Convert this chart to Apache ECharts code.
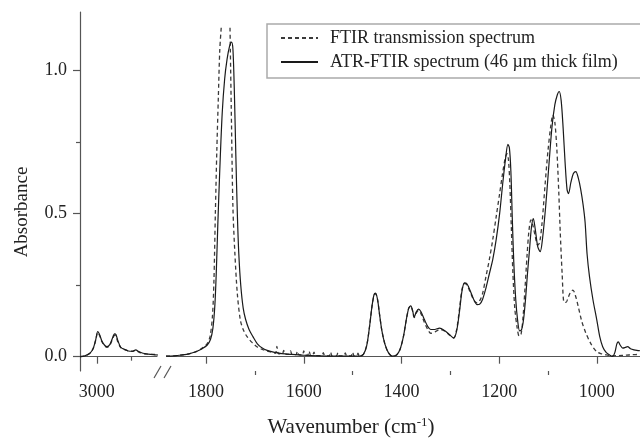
<!DOCTYPE html>
<html>
<head>
<meta charset="utf-8">
<script src="https://cdn.jsdelivr.net/npm/echarts@6/dist/echarts.min.js"></script>
<style>
html, body { margin: 0; padding: 0; background: #fff; }
#main { width: 640px; height: 441px; }
</style>
</head>
<body>
<div id="main"></div>
<script>
// wavenumbers (cm-1) and absorbance
var atrWave = [3049, 3035, 3020, 3010, 3003, 2997, 2992, 2985, 2977, 2970, 2962, 2955, 2948, 2944, 2938, 2930, 2920, 2908, 2895, 2886, 2878, 2865, 2850, 2835, 2821,
  1882, 1865, 1850, 1835, 1820, 1808, 1798, 1791, 1786, 1782, 1779, 1776, 1772, 1767, 1762, 1757, 1752, 1748, 1745, 1742, 1739, 1736, 1733, 1729, 1724, 1719, 1712, 1704, 1695, 1685, 1675, 1660, 1645, 1625, 1600, 1570, 1540, 1510,
  1486, 1478, 1471, 1465, 1460, 1456, 1453, 1449, 1445, 1440, 1434, 1427, 1419, 1410, 1403, 1396, 1390, 1385, 1381, 1377, 1374, 1370, 1365, 1360, 1353, 1346, 1340, 1332, 1322, 1312, 1302, 1293, 1287, 1281, 1276, 1271, 1266, 1259, 1252, 1245, 1240, 1234, 1227, 1220, 1213, 1206, 1199, 1193, 1187, 1182, 1179, 1176, 1173, 1170, 1166, 1162, 1158, 1154, 1150, 1146, 1142, 1138, 1134, 1130, 1126, 1121, 1116, 1111, 1105, 1099, 1092, 1086, 1081, 1077, 1073, 1069, 1065, 1061, 1058, 1053, 1048, 1043, 1038, 1033, 1028, 1024, 1020, 1015, 1008, 1000, 994, 988, 981, 974, 968, 963, 959, 956, 952, 947, 942, 937, 931, 924, 918, 912];
var atrAbs = [0.0, 0.003, 0.012, 0.03, 0.06, 0.088, 0.078, 0.055, 0.04, 0.035, 0.042, 0.062, 0.08, 0.078, 0.055, 0.033, 0.026, 0.02, 0.019, 0.024, 0.018, 0.012, 0.009, 0.007, 0.006,
  0.002, 0.003, 0.006, 0.01, 0.018, 0.028, 0.04, 0.06, 0.1, 0.18, 0.3, 0.46, 0.65, 0.85, 0.97, 1.04, 1.085, 1.1, 1.075, 0.92, 0.7, 0.5, 0.36, 0.25, 0.17, 0.13, 0.095, 0.07, 0.045, 0.03, 0.022, 0.015, 0.011, 0.008, 0.005, 0.003, 0.002, 0.002,
  0.002, 0.008, 0.04, 0.11, 0.18, 0.218, 0.222, 0.2, 0.15, 0.09, 0.045, 0.015, 0.002, 0.006, 0.025, 0.07, 0.13, 0.17, 0.178, 0.16, 0.138, 0.155, 0.166, 0.157, 0.13, 0.105, 0.095, 0.095, 0.1, 0.092, 0.078, 0.065, 0.09, 0.16, 0.23, 0.258, 0.255, 0.23, 0.2, 0.182, 0.183, 0.2, 0.24, 0.29, 0.34, 0.41, 0.5, 0.6, 0.69, 0.742, 0.73, 0.65, 0.48, 0.33, 0.2, 0.125, 0.09, 0.095, 0.13, 0.2, 0.29, 0.37, 0.45, 0.483, 0.445, 0.385, 0.367, 0.415, 0.52, 0.65, 0.8, 0.88, 0.915, 0.927, 0.895, 0.8, 0.68, 0.585, 0.57, 0.61, 0.64, 0.647, 0.625, 0.585, 0.53, 0.47, 0.36, 0.28, 0.2, 0.128, 0.07, 0.035, 0.015, 0.006, 0.001, 0.015, 0.045, 0.052, 0.04, 0.03, 0.032, 0.035, 0.028, 0.024, 0.022, 0.021];

var ftirWave = [3049, 3035, 3020, 3010, 3003, 2997, 2992, 2985, 2977, 2970, 2962, 2955, 2948, 2944, 2938, 2930, 2920, 2908, 2895, 2886, 2878, 2865, 2850, 2835, 2821,
  1882, 1865, 1850, 1835, 1820, 1808, 1798, 1792, 1787, 1784, 1781, 1778, 1775, 1772, 1769, 1765, 1751, 1748, 1745, 1741, 1736, 1730, 1724, 1716, 1706, 1696, 1686, 1676, 1666,
  1658, 1655, 1652, 1644, 1641, 1638, 1630, 1627, 1624, 1616, 1613, 1610, 1603, 1600, 1597, 1592, 1589, 1586, 1582, 1579, 1576, 1563, 1560, 1557, 1548, 1545, 1542, 1533, 1530, 1527, 1518, 1515, 1512, 1503, 1500, 1497, 1492, 1489, 1486,
  1478, 1471, 1465, 1460, 1456, 1453, 1449, 1445, 1440, 1434, 1427, 1419, 1410, 1403, 1396, 1390, 1385, 1381, 1377, 1374, 1370, 1365, 1360, 1353, 1346, 1340, 1332, 1322, 1312, 1302, 1293, 1287, 1281, 1276, 1271, 1266, 1259, 1252, 1245, 1240, 1234, 1227, 1220, 1213, 1206, 1199, 1193, 1188, 1184, 1181, 1178, 1175, 1172, 1168, 1163, 1159, 1155, 1151, 1147, 1143, 1139, 1135, 1131, 1126, 1121, 1117, 1112, 1106, 1100, 1094, 1090, 1086, 1082, 1078, 1075, 1071, 1067, 1063, 1059, 1054, 1049, 1044, 1038, 1031, 1023, 1012, 1000, 990, 980, 968, 955, 942, 928, 912];
var ftirAbs = [0.0, 0.003, 0.012, 0.03, 0.058, 0.085, 0.075, 0.052, 0.038, 0.033, 0.04, 0.058, 0.075, 0.072, 0.05, 0.032, 0.026, 0.02, 0.019, 0.023, 0.017, 0.011, 0.009, 0.008, 0.007,
  0.002, 0.003, 0.006, 0.01, 0.018, 0.03, 0.045, 0.07, 0.14, 0.26, 0.5, 0.72, 0.9, 1.07, 1.15, null, 1.15, 0.82, 0.52, 0.36, 0.22, 0.13, 0.095, 0.07, 0.05, 0.035, 0.026, 0.02, 0.016,
  0.012, 0.036, 0.011, 0.01, 0.022, 0.009, 0.008, 0.02, 0.008, 0.007, 0.019, 0.007, 0.006, 0.02, 0.006, 0.005, 0.019, 0.005, 0.005, 0.016, 0.004, 0.004, 0.014, 0.004, 0.003, 0.016, 0.003, 0.003, 0.014, 0.003, 0.003, 0.013, 0.003, 0.003, 0.016, 0.003, 0.003, 0.012, 0.002,
  0.008, 0.04, 0.11, 0.18, 0.215, 0.22, 0.2, 0.15, 0.09, 0.045, 0.015, 0.002, 0.006, 0.025, 0.07, 0.13, 0.17, 0.177, 0.158, 0.137, 0.152, 0.162, 0.15, 0.12, 0.095, 0.082, 0.086, 0.095, 0.09, 0.076, 0.066, 0.095, 0.17, 0.235, 0.256, 0.25, 0.225, 0.198, 0.188, 0.195, 0.22, 0.28, 0.34, 0.41, 0.49, 0.57, 0.64, 0.69, 0.71, 0.69, 0.6, 0.45, 0.3, 0.17, 0.1, 0.072, 0.08, 0.14, 0.24, 0.35, 0.44, 0.478, 0.46, 0.42, 0.39, 0.4, 0.47, 0.6, 0.72, 0.81, 0.845, 0.82, 0.73, 0.58, 0.44, 0.29, 0.19, 0.19, 0.205, 0.225, 0.233, 0.215, 0.175, 0.125, 0.085, 0.045, 0.017, 0.01, 0.006, 0.003, 0.004, 0.005, 0.007, 0.008];

var seriesNames = ['FTIR transmission spectrum', 'ATR-FTIR spectrum (46 \u00b5m thick film)'];
var leftTicks = [3000];
var leftMinor = [2900];
var rightTicks = [1800, 1600, 1400, 1200, 1000];
var rightMinor = [1700, 1500, 1300, 1100];
var yTicks = [0, 0.5, 1.0];
var yMinor = [0.25, 0.75];

var serif = "'Liberation Serif', 'Times New Roman', serif";
var axisColor = '#555';
var textColor = '#222';

// pick the points of one side of the axis break
function part(wave, abs, lo, hi) {
  var out = [];
  for (var i = 0; i < wave.length; i++) {
    if (wave[i] >= lo && wave[i] <= hi) {
      out.push([wave[i], abs[i] === null ? '-' : abs[i]]);
    }
  }
  return out;
}

function xAxisFor(grid, min, max, ticks, minor, isMajor) {
  return {
    type: 'value', gridIndex: grid, min: min, max: max, inverse: true, position: 'bottom',
    splitLine: { show: false },
    axisLine: { show: isMajor, lineStyle: { color: axisColor, width: 1.2 } },
    axisTick: { show: true, customValues: isMajor ? ticks : minor, length: isMajor ? 7 : 4, lineStyle: { color: axisColor, width: 1.2 } },
    axisLabel: {
      show: isMajor, customValues: ticks, margin: 12, fontFamily: serif, fontSize: 18, color: textColor,
      formatter: function (v) { return String(v); }
    }
  };
}

var chart = echarts.init(document.getElementById('main'));

var option = {
  animation: false,
  grid: [
    { left: 80, top: 12, width: 77, bottom: 70 },
    { left: 167, top: 12, right: 0, bottom: 70 }
  ],
  xAxis: [
    xAxisFor(0, 2824, 3049, leftTicks, leftMinor, true),
    xAxisFor(0, 2824, 3049, leftTicks, leftMinor, false),
    xAxisFor(1, 911.6, 1880, rightTicks, rightMinor, true),
    xAxisFor(1, 911.6, 1880, rightTicks, rightMinor, false)
  ],
  yAxis: [
    {
      type: 'value', gridIndex: 0, min: -0.05, max: 1.205, position: 'left',
      splitLine: { show: false },
      axisLine: { show: true, lineStyle: { color: axisColor, width: 1.2 } },
      axisTick: { show: true, customValues: yTicks, length: 7, lineStyle: { color: axisColor, width: 1.2 } },
      axisLabel: {
        customValues: yTicks, margin: 13, fontFamily: serif, fontSize: 18, color: textColor,
        formatter: function (v) { return v.toFixed(1); }
      }
    },
    {
      type: 'value', gridIndex: 0, min: -0.05, max: 1.205, position: 'left',
      splitLine: { show: false },
      axisLine: { show: false },
      axisTick: { show: true, customValues: yMinor, length: 4, lineStyle: { color: axisColor, width: 1.2 } },
      axisLabel: { show: false }
    },
    { type: 'value', gridIndex: 1, min: -0.05, max: 1.205, show: false }
  ],
  legend: {
    data: seriesNames,
    orient: 'vertical',
    left: 267, top: 24,
    padding: [4, 60, 6, 13],
    itemWidth: 37, itemHeight: 14, itemGap: 4,
    borderColor: '#aaa', borderWidth: 1.5,
    backgroundColor: '#fff',
    itemStyle: { color: 'rgba(0,0,0,0)', borderWidth: 0 },
    textStyle: { fontFamily: serif, fontSize: 18, color: textColor, lineHeight: 20, padding: [0, 0, 0, 7] }
  },
  series: [
    {
      name: seriesNames[0], type: 'line', xAxisIndex: 0, yAxisIndex: 0,
      data: part(ftirWave, ftirAbs, 2000, 4000), symbol: 'none', smooth: 0.3,
      lineStyle: { color: '#3a3a3a', width: 1.3, type: [4, 3] }, itemStyle: { color: '#3a3a3a' }
    },
    {
      name: seriesNames[0], type: 'line', xAxisIndex: 2, yAxisIndex: 2,
      data: part(ftirWave, ftirAbs, 0, 2000), symbol: 'none', smooth: 0.3,
      lineStyle: { color: '#3a3a3a', width: 1.3, type: [4, 3] }, itemStyle: { color: '#3a3a3a' }
    },
    {
      name: seriesNames[1], type: 'line', xAxisIndex: 0, yAxisIndex: 0,
      data: part(atrWave, atrAbs, 2000, 4000), symbol: 'none', smooth: 0.3,
      lineStyle: { color: '#1a1a1a', width: 1.2 }, itemStyle: { color: '#1a1a1a' }
    },
    {
      name: seriesNames[1], type: 'line', xAxisIndex: 2, yAxisIndex: 2,
      data: part(atrWave, atrAbs, 0, 2000), symbol: 'none', smooth: 0.3,
      lineStyle: { color: '#1a1a1a', width: 1.2 }, itemStyle: { color: '#1a1a1a' }
    }
  ],
  graphic: [
    // axis break marks
    { type: 'line', shape: { x1: 154, y1: 378, x2: 161, y2: 366 }, style: { stroke: axisColor, lineWidth: 1.2 } },
    { type: 'line', shape: { x1: 164, y1: 378, x2: 171, y2: 366 }, style: { stroke: axisColor, lineWidth: 1.2 } },
    {
      type: 'text', x: 22, y: 212, rotation: Math.PI / 2,
      style: { text: 'Absorbance', font: '19px ' + serif, fill: textColor, textAlign: 'center', textVerticalAlign: 'middle' }
    },
    {
      type: 'text', x: 351, y: 427,
      style: {
        text: 'Wavenumber (cm{sup|-1})', font: '21px ' + serif, fill: textColor,
        textAlign: 'center', textVerticalAlign: 'middle',
        rich: { sup: { fontSize: 13, fontFamily: serif, fill: textColor, verticalAlign: 'top', padding: [0, 0, 8, 0] } }
      }
    }
  ]
};

chart.setOption(option);
</script>
</body>
</html>
